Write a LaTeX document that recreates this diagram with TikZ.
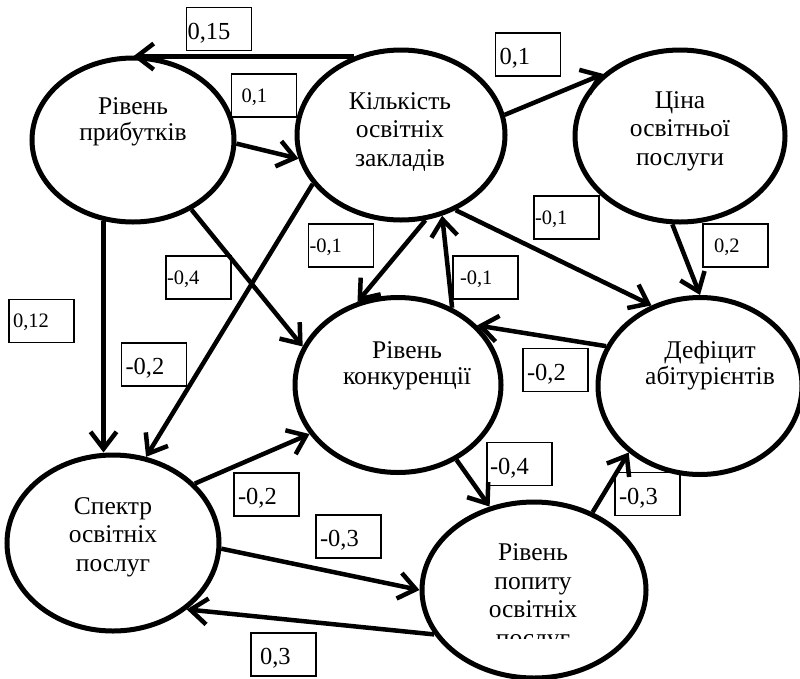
\documentclass[tikz,border=0pt]{standalone}
\usepackage{fontspec}
\setmainfont{Liberation Serif}
\usetikzlibrary{positioning,arrows.meta,shapes.geometric}
\definecolor{colorline}{RGB}{0,0,0}

\begin{document}
\begin{tikzpicture}[
    x=1pt, y=-1pt,
    factor/.style={ellipse,draw=colorline,line width=5pt,inner sep=0pt},
    txt/.style={text=colorline,align=center,font={\fontsize{25.5}{28.5}\selectfont}},
    txttight/.style={txt,font={\fontsize{25.5}{26}\selectfont}},
    link/.style={draw=colorline,line width=4.5pt,-{Straight Barb[length=17pt,width=26pt]}},
    weight/.style={draw=colorline,line width=1.5pt,text=colorline,minimum width=65pt,minimum height=43pt,text width=63pt,inner xsep=1pt,inner ysep=0pt,text depth=0pt,align=left,font={\fontsize{20.5}{22}\selectfont}},
    weightbig/.style={weight,text height=20pt,font={\fontsize{24.5}{26}\selectfont}},
]
    \useasboundingbox (0,0) rectangle (800,678);

    % Factors
    \node[factor,minimum width=202pt,minimum height=164pt] (pryb)   at (133,140) {};
    \node[factor,minimum width=208pt,minimum height=170pt] (kil)    at (401,135) {};
    \node[factor,minimum width=210pt,minimum height=172pt] (cina)   at (680,136) {};
    \node[factor,minimum width=206pt,minimum height=175pt] (konk)   at (398,385) {};
    \node[factor,minimum width=204pt,minimum height=177pt] (defic)  at (700,386) {};
    \node[factor,minimum width=212pt,minimum height=176pt] (spektr) at (113,543) {};
    \node[factor,minimum width=224pt,minimum height=176pt] (popyt)  at (534,590) {};

    % Text
    \node[txttight] (prybtxt)   at (133,122) {Рівень\\прибутків};
    \node[txt]      (kiltxt)    at (400,132) {Кількість\\освітніх\\закладів};
    \node[txt]      (cinatxt)   at (680,131) {Ціна\\освітньої\\послуги};
    \node[txttight] (konktxt)   at (407,366) {Рівень\\конкуренції};
    \node[txttight] (defictxt)  at (710,365) {Дефіцит\\абітурієнтів};
    \node[txt]      (spektrtxt) at (113,537) {Спектр\\освітніх\\послуг};
    \begin{scope}
        \clip (422,500) rectangle (646,638);
        \node[txt]  (popyttxt)  at (533,598) {Рівень\\попиту\\освітніх\\послуг};
    \end{scope}

    % Arrows
    \draw[link] (kil.121) -- (kil.121 -| pryb.north);
    \draw[link] (pryb.-2) -- (kil.193);
    \draw[link] (kil.11) -- (cina.141);
    \draw[link] (cina.265) -- (defic.north);
    \draw[link] (kil.306) -- (defic.121);
    \draw[link] (kil.286) -- (konk.116);
    \draw[link] (konk.55) -- (kil.297);
    \draw[link] (defic.157) -- (konk.37);
    \draw[link] (pryb.310) -- (konk.158);
    \draw[link] (kil.209) -- (spektr.69);
    \draw[link] (pryb.250) -- (pryb.250 |- spektr.north);
    \draw[link] (spektr.36) -- (konk.209);
    \draw[link] (konk.-52) -- (popyt.118);
    \draw[link] (popyt.53) -- (defic.223);
    \draw[link] (spektr.-3) -- (popyt.west);
    \draw[link] (popyt.204) -- (spektr.-42);

    % Weights
    \node[weightbig] (w1)  at (219,29)    {0,15};
    \node[weight]    (w2)  at (264,95.5)  {\hspace{9pt}0,1};
    \node[weightbig] (w3)  at (528,54.5)  {\hspace{3pt}0,1};
    \node[weight]    (w4)  at (341,245.5) {-0,1};
    \node[weight]    (w5)  at (198.5,277.5) {-0,4};
    \node[weight]    (w6)  at (41.5,321)  {\hspace{3pt}0,12};
    \node[weight]    (w7)  at (566.5,217.5) {-0,1};
    \node[weight]    (w8)  at (735.5,245.5) {\hspace{10pt}0,2};
    \node[weight]    (w9)  at (485.5,277.5) {\hspace{6pt}-0,1};
    \node[weightbig] (w10) at (154,364.5) {\hspace{3pt}-0,2};
    \node[weightbig] (w11) at (555.5,370) {\hspace{3pt}-0,2};
    \node[weightbig] (w12) at (519.5,464) {\hspace{2pt}-0,4};
    \node[weightbig] (w13) at (266.5,494.5) {\hspace{3pt}-0,2};
    \node[weightbig] (w14) at (647.5,494) {\hspace{3pt}-0,3};
    \node[weightbig] (w15) at (348.5,536.5) {\hspace{3pt}-0,3};
    \node[weightbig] (w16) at (283.5,654.5) {\hspace{8pt}0,3};

\end{tikzpicture}
\end{document}
